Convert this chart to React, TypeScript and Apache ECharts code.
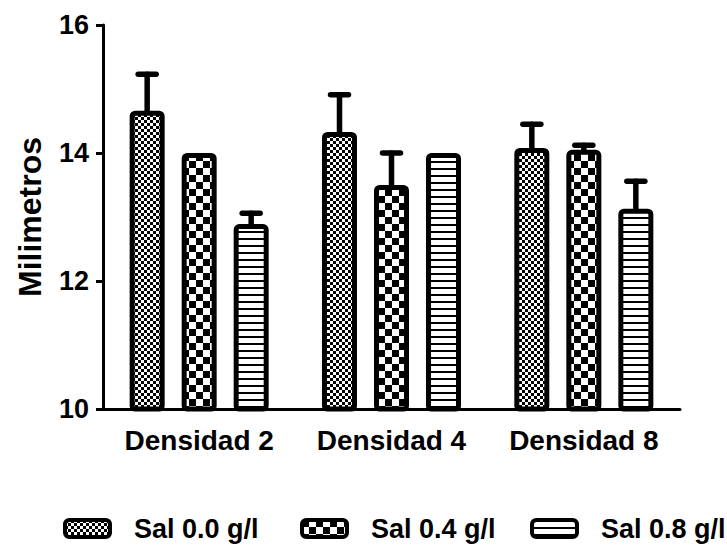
import React, { useEffect, useRef } from "react";
import * as echarts from "echarts";

const categories = ["Densidad 2", "Densidad 4", "Densidad 8"];
const seriesNames = ["Sal 0.0 g/l", "Sal 0.4 g/l", "Sal 0.8 g/l"];
const means00 = [14.66, 14.33, 14.08];
const errs00 = [0.57, 0.58, 0.37];
const means04 = [14.0, 13.5, 14.05];
const errs04 = [0, 0.5, 0.07];
const means08 = [12.89, 14.0, 13.13];
const errs08 = [0.17, 0, 0.43];
const yTicks = [10, 12, 14, 16];

const FONT = "'Liberation Sans', Arial, sans-serif";
const BAR_STEP = 52;

function makePattern(kind: string) {
  const c = document.createElement("canvas");
  let w = 6, h = 6;
  if (kind === "fine") { w = 6; h = 6; }
  if (kind === "coarse") { w = 14; h = 14; }
  if (kind === "stripe") { w = 7; h = 7; }
  c.width = w; c.height = h;
  const ctx = c.getContext("2d")!;
  ctx.fillStyle = "#fff";
  ctx.fillRect(0, 0, w, h);
  ctx.fillStyle = "#000";
  if (kind === "fine") { ctx.fillRect(0, 0, 3, 3); ctx.fillRect(3, 3, 3, 3); }
  if (kind === "coarse") { ctx.fillRect(0, 0, 7, 7); ctx.fillRect(7, 7, 7, 7); }
  if (kind === "stripe") { ctx.fillRect(0, 0, 7, 2); }
  return { image: c.toDataURL(), repeat: "repeat", imageWidth: w, imageHeight: h } as any;
}

export default function App() {
  const ref = useRef<HTMLDivElement>(null);
  useEffect(() => {
    document.body.style.margin = "0";
    const chart = echarts.init(ref.current!, undefined, { renderer: "svg" });
    const patterns = [makePattern("fine"), makePattern("coarse"), makePattern("stripe")];
    const allMeans = [means00, means04, means08];
    const allErrs = [errs00, errs04, errs08];

    const barSeries = seriesNames.map((name, i) => ({
      name,
      type: "bar",
      data: allMeans[i],
      barWidth: 35,
      barGap: "48.6%",
      itemStyle: { color: patterns[i], borderColor: "#000", borderWidth: 5, borderRadius: 3 },
      z: 2,
    }));

    const errSeries = seriesNames.map((name, i) => ({
      name: name + " err",
      type: "custom",
      z: 3,
      encode: { x: 0, y: 1 },
      data: categories.map((_, k) => [k, allMeans[i][k], allErrs[i][k]]),
      renderItem: (params: any, api: any) => {
        const k = api.value(0);
        const m = api.value(1);
        const e = api.value(2);
        if (!e) return null;
        const off = (i - 1) * BAR_STEP;
        const p0 = api.coord([k, m]);
        const p1 = api.coord([k, m + e]);
        const x = p0[0] + off;
        const st = { stroke: "#000", lineWidth: 5.5, lineCap: "round" };
        return {
          type: "group",
          children: [
            { type: "line", shape: { x1: x, y1: p0[1], x2: x, y2: p1[1] }, style: st },
            { type: "line", shape: { x1: x - 9, y1: p1[1], x2: x + 9, y2: p1[1] }, style: st },
          ],
        };
      },
    }));

    const legendLefts = [63, 300, 530];
    chart.setOption({
      animation: false,
      backgroundColor: "#fff",
      textStyle: { fontFamily: FONT },
      grid: { left: 103, right: 47, top: 25, bottom: 138, containLabel: false },
      legend: seriesNames.map((n, i) => ({
        data: [{ name: n, itemStyle: { borderColor: "#000", borderWidth: 4 } }],
        left: legendLefts[i],
        top: 515,
        padding: 0,
        itemWidth: 45,
        itemHeight: 17,
        icon: "roundRect",
        selectedMode: false,
        textStyle: { fontSize: 27, fontWeight: "bold", color: "#000", fontFamily: FONT, padding: [0, 0, 0, 19] },
      })),
      xAxis: {
        type: "category",
        data: categories,
        axisLine: { lineStyle: { color: "#000", width: 3 } },
        axisTick: { alignWithLabel: true, length: 8, lineStyle: { color: "#000", width: 3 } },
        axisLabel: { interval: 0, fontSize: 28, fontWeight: "bold", color: "#000", margin: 17, fontFamily: FONT },
        splitLine: { show: false },
      },
      yAxis: {
        type: "value",
        min: yTicks[0],
        max: yTicks[yTicks.length - 1],
        interval: 2,
        name: "Milimetros",
        nameLocation: "middle",
        nameGap: 57,
        nameTextStyle: { fontSize: 32, fontWeight: "bold", color: "#000", fontFamily: FONT },
        axisLine: { show: true, lineStyle: { color: "#000", width: 3 } },
        axisTick: { show: true, length: 7, lineStyle: { color: "#000", width: 3 } },
        axisLabel: { fontSize: 27, fontWeight: "bold", color: "#000", margin: 14, fontFamily: FONT },
        splitLine: { show: false },
      },
      series: [...barSeries, ...errSeries],
    } as any);
    return () => chart.dispose();
  }, []);
  return <div ref={ref} style={{ width: 727, height: 547 }} />;
}
